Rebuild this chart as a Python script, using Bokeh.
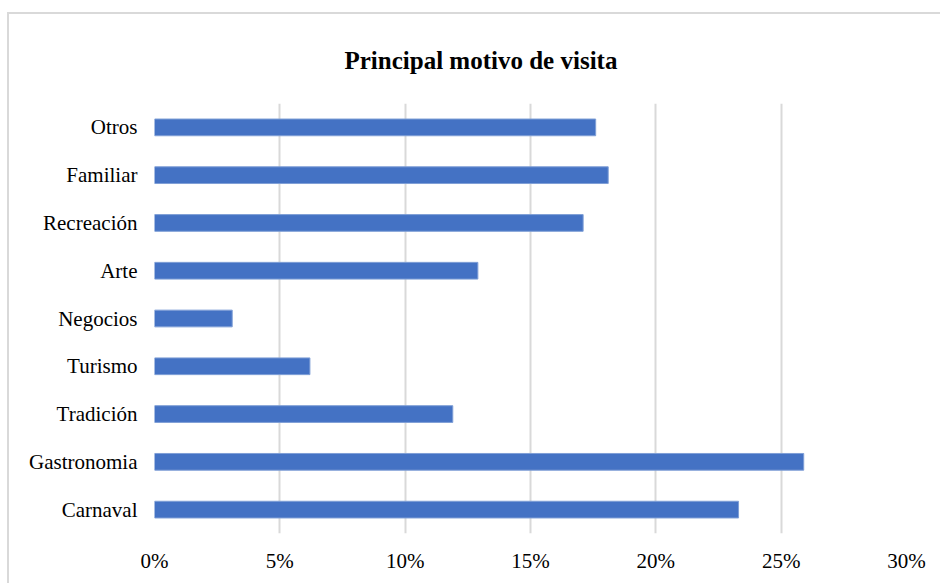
from bokeh.plotting import figure
from bokeh.models import ColumnDataSource, Range1d, FactorRange, FixedTicker, PrintfTickFormatter
from bokeh.embed import file_html
from bokeh.resources import INLINE

# Principal reason for visiting (share of respondents, %)
categories = ["Carnaval", "Gastronomia", "Tradición", "Turismo", "Negocios",
              "Arte", "Recreación", "Familiar", "Otros"]
shares = [23.3, 25.9, 11.9, 6.2, 3.1, 12.9, 17.1, 18.1, 17.6]
x_ticks = [0, 5, 10, 15, 20, 25, 30]

source = ColumnDataSource(data=dict(motivo=categories, pct=shares))

SERIF = "Liberation Serif"

p = figure(
    width=933, height=571,
    y_range=FactorRange(factors=categories),
    x_range=Range1d(0, 30),
    output_backend="svg",
    toolbar_location=None,
    min_border_left=145, min_border_right=36,
    min_border_top=81, min_border_bottom=52,
    title="Principal motivo de visita",
)
p.styles = {
    "margin-left": "7px",
    "margin-top": "12px",
    "border-left": "2px solid #d9d9d9",
    "border-top": "2px solid #d9d9d9",
}

p.hbar(y="motivo", right="pct", left=0, height=0.35, source=source,
       fill_color="#4472C4", line_color="#7f9fd6", line_width=1)

# Title, centred over the whole chart area; a compact line height keeps
# the title panel inside the top border so the plot frame stays put
p.title.align = "left"
p.title.offset = 190
p.title.text_font = SERIF
p.title.text_font_size = "25px"
p.title.text_font_style = "bold"
p.title.text_color = "#000000"
p.title.text_line_height = 0.5
p.title.standoff = 60

# Frame and grid
p.outline_line_color = None
p.background_fill_color = "white"
p.border_fill_color = "white"
p.ygrid.grid_line_color = None
p.xgrid.grid_line_color = "#d9d9d9"
p.xgrid.grid_line_width = 2
p.xaxis.ticker = FixedTicker(ticks=x_ticks)

# Axes
p.xaxis.formatter = PrintfTickFormatter(format="%d%%")
for ax in (p.xaxis[0], p.yaxis[0]):
    ax.axis_line_color = None
    ax.major_tick_line_color = None
    ax.minor_tick_line_color = None
    ax.major_label_text_font = SERIF
    ax.major_label_text_font_size = "21px"
    ax.major_label_text_color = "#000000"
p.xaxis.major_label_standoff = 9
p.yaxis.major_label_standoff = 11

open("out.html", "w").write(file_html(p, INLINE))
